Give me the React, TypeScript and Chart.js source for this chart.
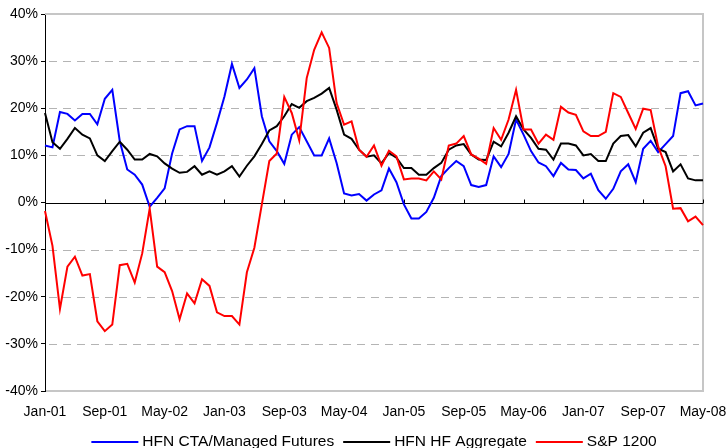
import React, { useEffect, useRef } from 'react';
import { Chart, registerables } from 'chart.js';

Chart.register(...registerables);

const MONTHS = ['Jan', 'Feb', 'Mar', 'Apr', 'May', 'Jun', 'Jul', 'Aug', 'Sep', 'Oct', 'Nov', 'Dec'];
const categories: string[] = [];
for (let yr = 1; yr <= 8; yr++) {
  for (let m = 0; m < 12; m++) {
    if (yr === 8 && m > 4) break;
    categories.push(`${MONTHS[m]}-0${yr}`);
  }
}

const tickLabels = ['Jan-01', 'Sep-01', 'May-02', 'Jan-03', 'Sep-03', 'May-04', 'Jan-05', 'Sep-05', 'May-06', 'Jan-07', 'Sep-07', 'May-08'];
const gridValues = [-30, -20, -10, 10, 20, 30];

const ctaLabel = 'HFN CTA/Managed Futures';
const hfLabel = 'HFN HF Aggregate';
const spLabel = 'S&P 1200';

const ctaSeries = [
  12.1, 11.7, 19.2, 18.8, 17.4, 18.8, 18.8, 16.6, 22.0, 23.9, 13.0, 7.0,
  5.9, 3.8, -0.9, 1.0, 3.0, 10.4, 15.5, 16.2, 16.2, 8.8, 11.7, 16.9,
  22.5, 29.4, 24.3, 26.1, 28.5, 18.3, 13.0, 10.9, 8.2, 14.4, 16.0, 13.0,
  10.0, 10.0, 13.6, 8.4, 1.9, 1.5, 1.8, 0.4, 1.7, 2.6, 7.2, 4.3,
  -0.4, -3.4, -3.4, -2.0, 1.0, 5.6, 7.3, 8.8, 7.7, 3.7, 3.3, 3.7,
  9.8, 7.5, 10.3, 17.6, 14.4, 10.9, 8.5, 7.7, 5.6, 8.4, 7.0, 6.9,
  5.1, 6.1, 2.6, 0.8, 2.9, 6.6, 8.1, 4.3, 11.4, 13.1, 10.7, 12.4,
  14.1, 23.2, 23.6, 20.6, 21.0,
];

const hfSeries = [
  19.0, 12.8, 11.4, 13.5, 15.8, 14.4, 13.6, 10.0, 8.8, 10.9, 12.9, 11.2,
  9.1, 9.1, 10.3, 9.8, 8.3, 7.2, 6.3, 6.5, 7.7, 5.9, 6.6, 5.9,
  6.6, 7.7, 5.5, 7.8, 9.8, 12.4, 15.3, 16.2, 18.3, 20.9, 20.1, 21.5,
  22.2, 23.1, 24.3, 19.7, 14.4, 13.5, 11.2, 9.7, 10.0, 8.3, 10.5, 9.5,
  7.3, 7.3, 5.9, 5.9, 7.3, 8.4, 11.2, 12.1, 12.4, 10.2, 9.1, 9.0,
  12.9, 11.9, 14.8, 18.3, 15.5, 13.7, 11.4, 11.2, 9.1, 12.5, 12.5, 12.1,
  10.0, 10.3, 8.8, 8.8, 12.5, 14.1, 14.3, 11.9, 14.8, 15.8, 11.4, 10.7,
  6.6, 8.1, 5.1, 4.7, 4.7,
];

const spSeries = [
  -1.8, -9.2, -22.6, -13.6, -11.5, -15.5, -15.2, -25.2, -27.3, -25.9, -13.3, -13.0,
  -17.0, -10.8, -1.3, -13.6, -14.8, -18.8, -24.8, -19.3, -21.4, -16.3, -17.7, -23.3,
  -24.1, -24.1, -25.9, -14.8, -9.6, -0.4, 8.8, 10.4, 22.4, 19.0, 13.2, 26.4,
  32.4, 36.1, 32.8, 21.1, 16.5, 17.2, 11.2, 9.7, 12.1, 7.8, 11.0, 9.8,
  4.9, 5.1, 5.1, 4.7, 6.6, 4.9, 12.1, 12.5, 14.1, 10.2, 9.3, 8.2,
  15.8, 13.3, 17.6, 23.9, 15.5, 15.5, 12.5, 14.4, 13.3, 20.3, 19.1, 18.6,
  15.1, 14.1, 14.1, 15.0, 23.2, 22.4, 19.0, 15.6, 19.9, 19.6, 11.9, 7.7,
  -1.3, -1.2, -4.0, -3.0, -4.8,
];

const FONT = '"Liberation Sans", Arial, sans-serif';

const chromePlugin = {
  id: 'chrome',
  beforeDatasetsDraw(chart: any) {
    const { ctx, chartArea: a, scales } = chart;
    const x = scales.x;
    const y = scales.y;
    ctx.save();
    ctx.strokeStyle = '#b4b4b4';
    ctx.lineWidth = 1;
    ctx.setLineDash([8, 6]);
    for (const v of gridValues) {
      const py = Math.round(y.getPixelForValue(v)) + 0.5;
      ctx.beginPath();
      ctx.moveTo(a.left + 4, py);
      ctx.lineTo(a.right - 4, py);
      ctx.stroke();
    }
    ctx.setLineDash([]);
    ctx.strokeStyle = '#c6c6c6';
    ctx.lineWidth = 2;
    ctx.beginPath();
    ctx.moveTo(a.left, a.top);
    ctx.lineTo(a.right, a.top);
    ctx.lineTo(a.right, a.bottom);
    ctx.lineTo(a.left + 1, a.bottom);
    ctx.stroke();
    const zy = Math.round(y.getPixelForValue(0)) + 0.5;
    ctx.strokeStyle = '#000';
    ctx.lineWidth = 1;
    ctx.beginPath();
    ctx.moveTo(a.left, zy);
    ctx.lineTo(a.right, zy);
    ctx.stroke();
    categories.forEach((c, i) => {
      if (tickLabels.includes(c)) {
        const px = Math.round(x.getPixelForValue(i)) + 0.5;
        ctx.beginPath();
        ctx.moveTo(px, zy);
        ctx.lineTo(px, zy - 4);
        ctx.stroke();
      }
    });
    ctx.restore();
  },
  afterDraw(chart: any) {
    const { ctx, chartArea: a } = chart;
    ctx.save();
    ctx.font = `15.5px ${FONT}`;
    ctx.textBaseline = 'middle';
    ctx.textAlign = 'left';
    const lineW = 47;
    const gapText = 4;
    const gapItem = 9;
    const items = chart.data.datasets.map((d: any) => ({
      label: d.label,
      color: d.borderColor,
      w: ctx.measureText(d.label).width,
    }));
    let total = 0;
    items.forEach((it: any, i: number) => {
      total += lineW + gapText + it.w + (i > 0 ? gapItem : 0);
    });
    let cx = (a.left + a.right) / 2 - total / 2;
    const ly = chart.height - 6;
    items.forEach((it: any) => {
      ctx.strokeStyle = it.color;
      ctx.lineWidth = 2;
      ctx.beginPath();
      ctx.moveTo(cx, ly);
      ctx.lineTo(cx + lineW, ly);
      ctx.stroke();
      ctx.fillStyle = '#000';
      ctx.fillText(it.label, cx + lineW + gapText, ly);
      cx += lineW + gapText + it.w + gapItem;
    });
    ctx.restore();
  },
};

export default function App() {
  const canvasRef = useRef<HTMLCanvasElement | null>(null);

  useEffect(() => {
    const canvas = canvasRef.current;
    if (!canvas) return;
    const chart = new Chart(canvas, {
      type: 'line',
      data: {
        labels: categories,
        datasets: [
          { label: ctaLabel, data: ctaSeries, borderColor: '#0000ff', backgroundColor: '#0000ff', borderWidth: 2, pointRadius: 0, tension: 0, order: 3 },
          { label: hfLabel, data: hfSeries, borderColor: '#000000', backgroundColor: '#000000', borderWidth: 2, pointRadius: 0, tension: 0, order: 2 },
          { label: spLabel, data: spSeries, borderColor: '#ff0000', backgroundColor: '#ff0000', borderWidth: 2, pointRadius: 0, tension: 0, order: 1 },
        ],
      },
      options: {
        animation: false,
        responsive: false,
        maintainAspectRatio: false,
        devicePixelRatio: 1,
        layout: { padding: { top: 14, right: 25, left: 0, bottom: 27 } },
        plugins: {
          legend: { display: false },
          tooltip: { enabled: false },
        },
        scales: {
          x: {
            type: 'category',
            offset: false,
            grid: { display: false },
            border: { display: false },
            ticks: {
              autoSkip: false,
              maxRotation: 0,
              minRotation: 0,
              padding: 5,
              color: '#000',
              font: { family: FONT, size: 14 },
              callback: (_v: any, i: number) => (tickLabels.includes(categories[i]) ? categories[i] : ''),
            },
            afterFit: (s: any) => {
              s.height = 30;
              s.paddingLeft = 0;
              s.paddingRight = 0;
            },
          },
          y: {
            min: -40,
            max: 40,
            grid: { display: true, drawOnChartArea: false, drawTicks: true, tickLength: 4, color: '#000' },
            border: { display: true, color: '#000', width: 1 },
            ticks: {
              stepSize: 10,
              padding: 3,
              color: '#000',
              font: { family: FONT, size: 14 },
              callback: (v: any) => `${v}%`,
            },
            afterFit: (s: any) => {
              s.width = 45;
            },
          },
        },
      },
      plugins: [chromePlugin],
    });
    return () => chart.destroy();
  }, []);

  return (
    <div style={{ position: 'fixed', left: 0, top: 0, width: 728, height: 448, background: '#fff' }}>
      <canvas ref={canvasRef} width={728} height={448} style={{ display: 'block' }} />
    </div>
  );
}
